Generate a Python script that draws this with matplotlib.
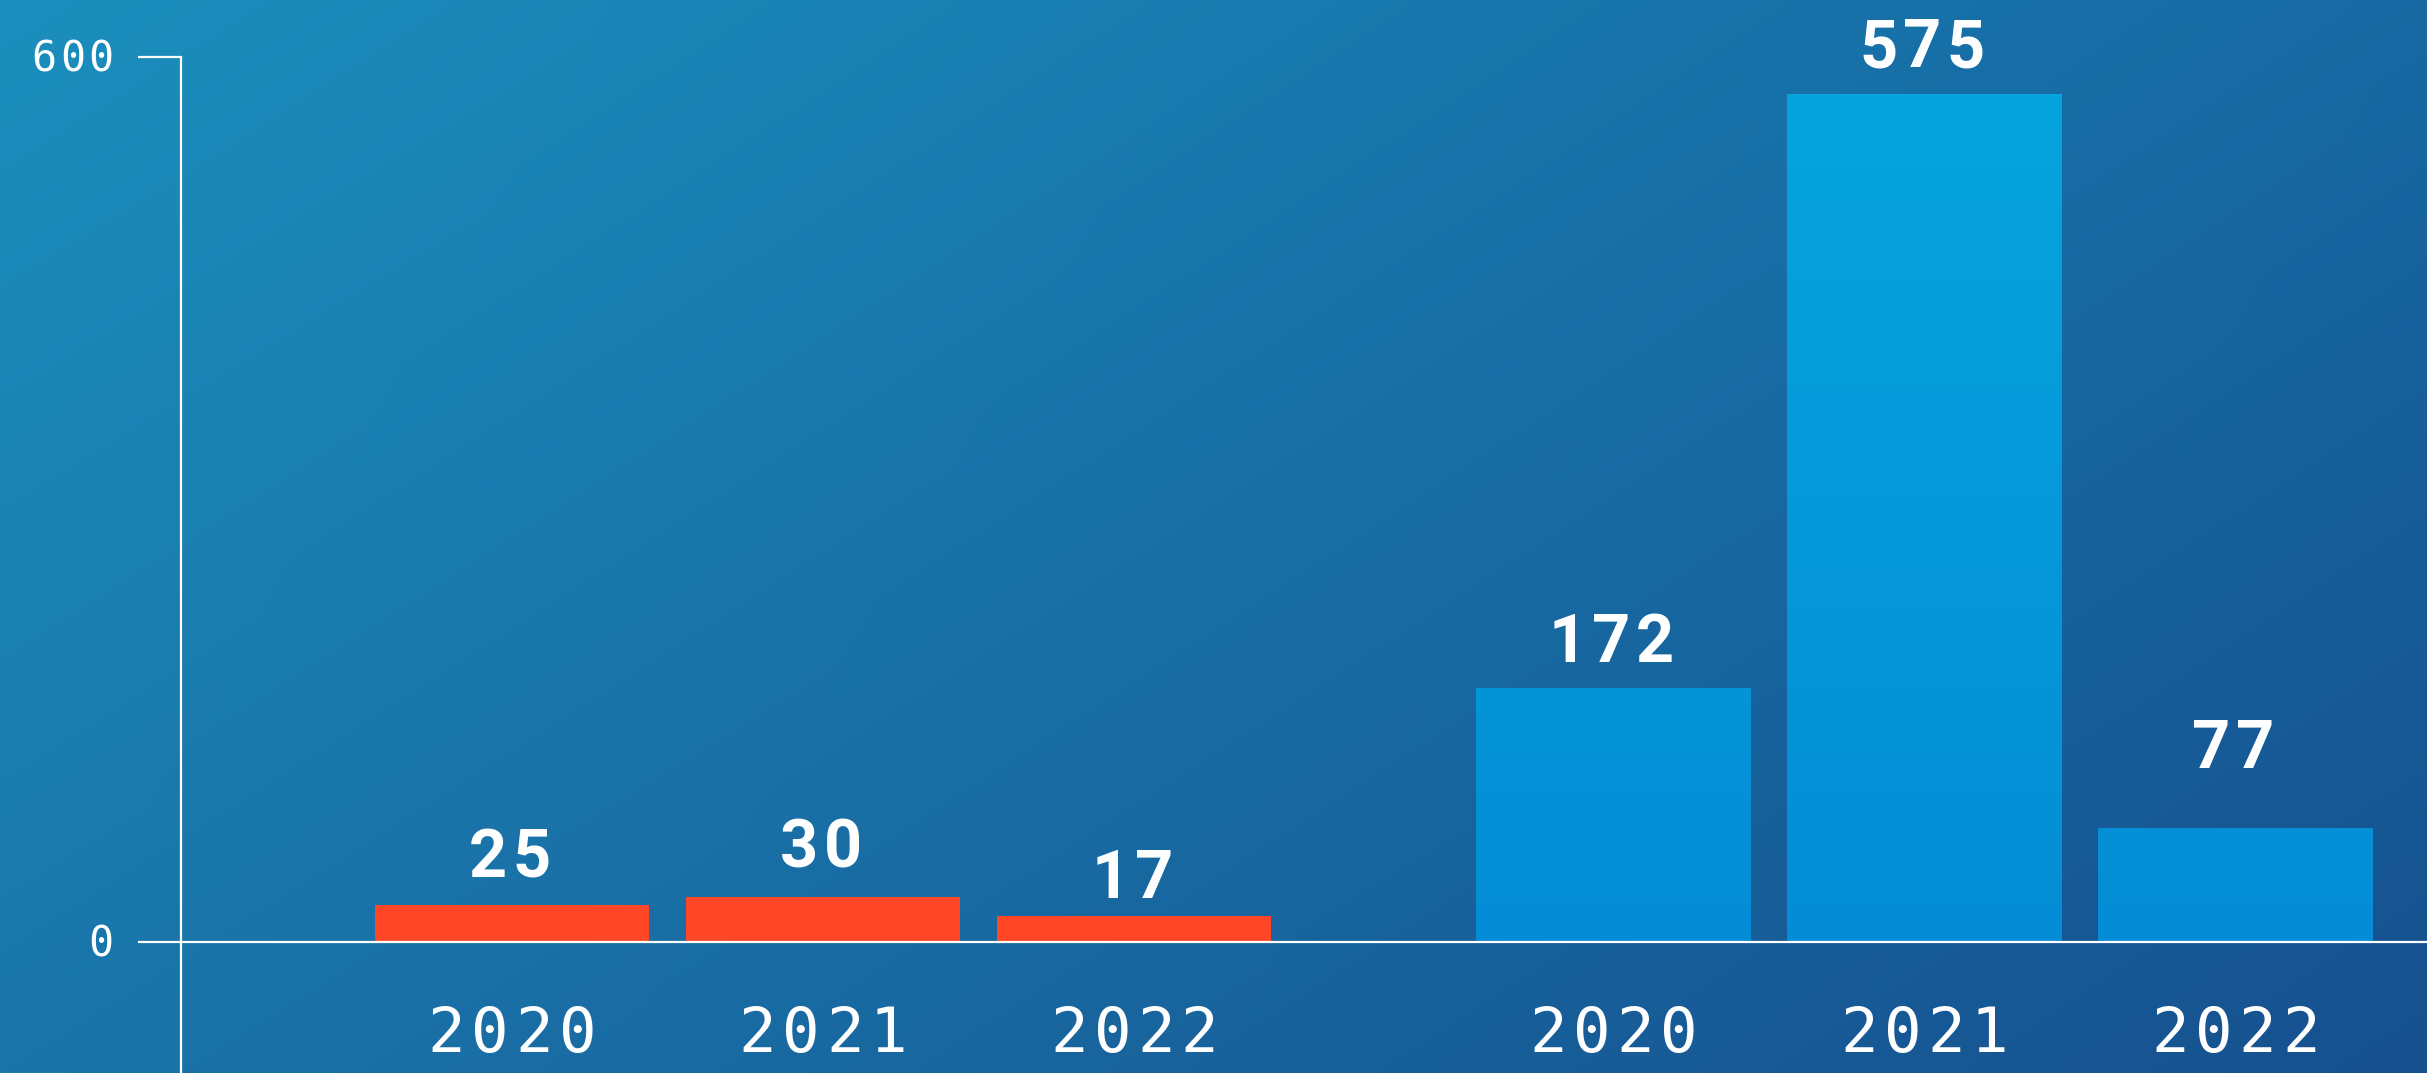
import numpy as np
import matplotlib
matplotlib.use("Agg")
import matplotlib.pyplot as plt

# values
years = ["2020", "2021", "2022"]
red_values = [25, 30, 17]
blue_values = [172, 575, 77]
y_ticks = [0, 600]

# layout
GROUP_GAP = 1.54
BAR_W = 0.882
W, H, DPI = 2427, 1073, 100
X_LO, X_HI = -1.064, 6.156
Y_LO, Y_HI = -89.2, 638.9
PX = 72 / DPI  # points per pixel
# gap (px) between each value label's baseline and its bar top, as in the reference
red_label_gap = [28, 30, 18]
blue_label_gap = [26, 27, 60]

BG = {"tl": (27, 143, 189), "tr": (23, 105, 163), "bl": (26, 117, 170), "br": (22, 80, 143)}
RED = "#ff4626"
BLUE_TOP = np.array([6, 165, 221]) / 255
BLUE_BOT = np.array([4, 141, 214]) / 255


def background():
    u = np.linspace(0, 1, 300)[None, :, None]
    v = np.linspace(0, 1, 150)[:, None, None]
    c = {k: np.array(val)[None, None, :] / 255 for k, val in BG.items()}
    top = c["tl"] * (1 - u) + c["tr"] * u
    bot = c["bl"] * (1 - u) + c["br"] * u
    return top * (1 - v) + bot * v


def spaced(ax, s, xy, xycoords, dx, dy, advance, anchor="center", **kw):
    # draw text one character at a time to get the wide letter spacing
    n = len(s)
    if anchor == "center":
        start = dx - (n - 1) * advance / 2
    else:  # dx is the centre of the last char
        start = dx - (n - 1) * advance
    for i, ch in enumerate(s):
        ax.annotate(ch, xy=xy, xycoords=xycoords, xytext=(start + i * advance, dy),
                    textcoords="offset points", ha="center", va="baseline",
                    annotation_clip=False, **kw)


fig = plt.figure(figsize=(W / DPI, H / DPI), dpi=DPI)
bg_ax = fig.add_axes([0, 0, 1, 1])
bg_ax.imshow(background(), aspect="auto", extent=[0, 1, 0, 1], interpolation="bilinear")
bg_ax.axis("off")

ax = fig.add_axes([181 / W, 0, 1 - 181 / W, 1])
ax.set_facecolor("none")
ax.set_xlim(X_LO, X_HI)
ax.set_ylim(Y_LO, Y_HI)

x_red = np.arange(len(years))
x_blue = x_red + len(years) + GROUP_GAP - 1

red_bars = ax.bar(x_red, red_values, width=BAR_W, color=RED, zorder=2)
blue_bars = ax.bar(x_blue, blue_values, width=BAR_W, color="none", zorder=2)

# vertical gradient fill for the blue bars
grad = np.linspace(0, 1, 256)[:, None, None]
grad_img = BLUE_TOP[None, None, :] * (1 - grad) + BLUE_BOT[None, None, :] * grad
for bar in blue_bars:
    x0, w = bar.get_x(), bar.get_width()
    im = ax.imshow(grad_img, aspect="auto", extent=[x0, x0 + w, 0, 600],
                   interpolation="bilinear", zorder=2)
    im.set_clip_path(bar)

ax.axhline(0, color="white", lw=1.6, zorder=3)

value_font = dict(family=["Roboto", "DejaVu Sans"], weight="bold", size=48, color="white")
mono_font = dict(family=["DejaVu Sans Mono"], color="white")

for xs, vals, gaps in [(x_red, red_values, red_label_gap), (x_blue, blue_values, blue_label_gap)]:
    for x, v, yr, g in zip(xs, vals, years, gaps):
        spaced(ax, str(v), (x, v), "data", -2 * PX, g * PX, 31.5, **value_font)
        spaced(ax, yr, (x, 0), "data", 0, -79.6, 31.4, size=45, **mono_font)

# y tick labels, letter-spaced like the reference
ax.set_xticks([])
ax.set_yticks(y_ticks)
ax.set_yticklabels([])
ax.tick_params(axis="y", length=31, width=1.6, color="white")
trans = ax.get_yaxis_transform()
for t in y_ticks:
    spaced(ax, str(t), (0, t), trans, -57.6, -10.5, 20.5, anchor="right", size=30, **mono_font)

for side in ["top", "right", "bottom"]:
    ax.spines[side].set_visible(False)
ax.spines["left"].set_color("white")
ax.spines["left"].set_linewidth(1.6)
ax.spines["left"].set_bounds(Y_LO, 600)

fig.savefig("out.png", dpi=DPI)
